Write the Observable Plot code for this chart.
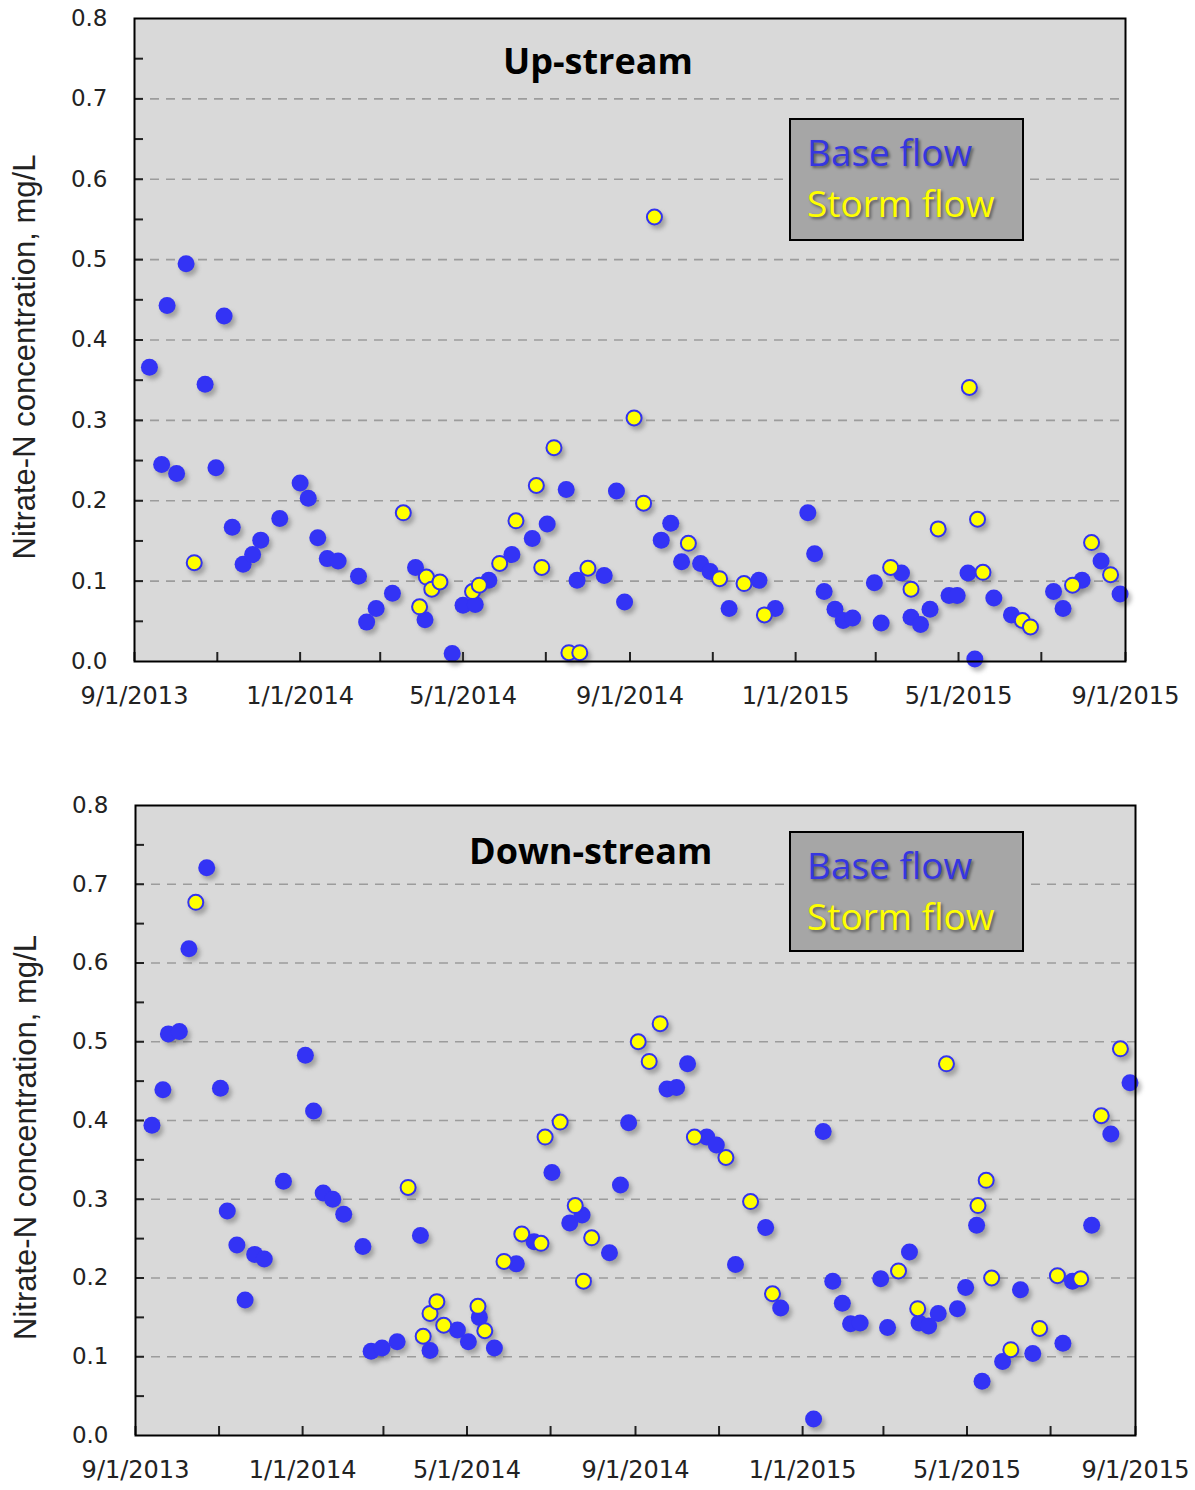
<!DOCTYPE html>
<html><head><meta charset="utf-8">
<script src="https://cdn.jsdelivr.net/npm/d3@7"></script>
<script src="https://cdn.jsdelivr.net/npm/@observablehq/plot@0.6"></script>
<style>
body{margin:0;background:#fff;width:1195px;height:1490px;overflow:hidden;position:relative;}
.panel{position:absolute;left:0;}
.title{position:absolute;font-family:"Open Sans";font-weight:700;font-size:36px;color:#000;line-height:1;}
.legend{position:absolute;background:#a6a6a6;border:2px solid #000;box-sizing:border-box;font-family:"Open Sans";font-size:37px;line-height:51px;padding:6px 0 0 16px;text-shadow:2px 2px 3px rgba(0,0,0,0.45);}
.legend .b{color:#3636e0;}
.legend .s{color:#ffff00;}
</style></head><body>
<div id="top" class="panel" style="top:0"></div>
<div id="bottom" class="panel" style="top:730px"></div>
<div class="title" style="left:503px;top:43px">Up-stream</div>
<div class="title" style="left:469px;top:833px">Down-stream</div>
<div class="legend" style="left:789px;top:118px;width:235px;height:123px"><div class="b">Base flow</div><div class="s">Storm flow</div></div>
<div class="legend" style="left:789px;top:831px;width:235px;height:121px"><div class="b">Base flow</div><div class="s">Storm flow</div></div>
<script>
// ---------- Data ----------
const upBaseDates = ["2013-09-12","2013-09-21","2013-09-25","2013-10-02","2013-10-09","2013-10-23","2013-10-31","2013-11-06","2013-11-12","2013-11-20","2013-11-27","2013-12-03","2013-12-17","2014-01-01","2014-01-07","2014-01-14","2014-01-21","2014-01-29","2014-02-13","2014-02-19","2014-02-26","2014-03-10","2014-03-27","2014-04-03","2014-04-23","2014-05-01","2014-05-10","2014-05-20","2014-06-06","2014-06-21","2014-07-02","2014-07-16","2014-07-24","2014-08-13","2014-08-22","2014-08-28","2014-09-24","2014-10-01","2014-10-09","2014-10-23","2014-10-30","2014-11-13","2014-12-05","2014-12-17","2015-01-10","2015-01-15","2015-01-22","2015-01-30","2015-02-05","2015-02-12","2015-02-28","2015-03-05","2015-03-20","2015-03-27","2015-04-03","2015-04-10","2015-04-24","2015-04-30","2015-05-08","2015-05-13","2015-05-27","2015-06-09","2015-07-10","2015-07-17","2015-07-31","2015-08-14","2015-08-28"];
const upBaseValues = [0.366,0.245,0.443,0.234,0.495,0.345,0.241,0.430,0.167,0.121,0.133,0.151,0.178,0.222,0.203,0.154,0.128,0.125,0.106,0.049,0.066,0.085,0.117,0.052,0.010,0.070,0.071,0.101,0.133,0.153,0.171,0.214,0.101,0.107,0.212,0.074,0.151,0.172,0.124,0.122,0.112,0.066,0.101,0.066,0.185,0.134,0.087,0.065,0.051,0.054,0.098,0.048,0.110,0.055,0.046,0.065,0.082,0.082,0.110,0.003,0.079,0.058,0.087,0.066,0.101,0.125,0.084];
const upStormDates = ["2013-10-15","2014-03-18","2014-03-30","2014-04-04","2014-04-08","2014-04-14","2014-05-08","2014-05-13","2014-05-28","2014-06-09","2014-06-24","2014-06-28","2014-07-07","2014-07-18","2014-07-26","2014-08-01","2014-09-04","2014-09-11","2014-09-19","2014-10-14","2014-11-06","2014-11-24","2014-12-09","2015-03-12","2015-03-27","2015-04-16","2015-05-09","2015-05-15","2015-05-19","2015-06-17","2015-06-23","2015-07-24","2015-08-07","2015-08-21"];
const upStormValues = [0.123,0.185,0.068,0.105,0.090,0.099,0.087,0.095,0.122,0.175,0.219,0.117,0.266,0.011,0.011,0.116,0.303,0.197,0.553,0.147,0.103,0.097,0.058,0.117,0.090,0.165,0.341,0.177,0.111,0.051,0.043,0.095,0.148,0.108];

const downBaseDates = ["2013-09-13","2013-09-21","2013-09-25","2013-10-03","2013-10-10","2013-10-23","2013-11-02","2013-11-07","2013-11-14","2013-11-20","2013-11-27","2013-12-04","2013-12-18","2014-01-03","2014-01-09","2014-01-16","2014-01-23","2014-01-31","2014-02-14","2014-02-20","2014-02-28","2014-03-11","2014-03-28","2014-04-04","2014-04-24","2014-05-02","2014-05-10","2014-05-21","2014-06-06","2014-06-19","2014-07-02","2014-07-15","2014-07-24","2014-08-13","2014-08-21","2014-08-27","2014-09-24","2014-10-01","2014-10-09","2014-10-23","2014-10-30","2014-11-13","2014-12-05","2014-12-16","2015-01-09","2015-01-16","2015-01-23","2015-01-30","2015-02-05","2015-02-12","2015-02-27","2015-03-04","2015-03-20","2015-03-27","2015-04-03","2015-04-10","2015-04-24","2015-04-30","2015-05-08","2015-05-12","2015-05-27","2015-06-09","2015-06-18","2015-07-10","2015-07-17","2015-07-31","2015-08-14","2015-08-28"];
const downBaseValues = [0.394,0.439,0.510,0.513,0.618,0.721,0.441,0.285,0.242,0.172,0.230,0.224,0.323,0.483,0.412,0.308,0.300,0.281,0.240,0.107,0.111,0.119,0.254,0.108,0.134,0.119,0.150,0.111,0.218,0.246,0.334,0.270,0.280,0.232,0.318,0.397,0.440,0.442,0.472,0.379,0.369,0.217,0.264,0.162,0.021,0.386,0.196,0.168,0.142,0.143,0.199,0.137,0.233,0.143,0.139,0.155,0.161,0.188,0.267,0.069,0.094,0.185,0.104,0.117,0.196,0.267,0.383,0.448];
const downStormDates = ["2013-10-15","2014-03-19","2014-03-30","2014-04-04","2014-04-09","2014-04-14","2014-05-09","2014-05-14","2014-05-28","2014-06-10","2014-06-24","2014-06-27","2014-07-08","2014-07-19","2014-07-25","2014-07-31","2014-09-03","2014-09-11","2014-09-19","2014-10-14","2014-11-06","2014-11-24","2014-12-10","2015-03-12","2015-03-26","2015-04-16","2015-05-09","2015-05-15","2015-05-19","2015-06-02","2015-06-23","2015-07-06","2015-07-23","2015-08-07","2015-08-21"];
const downStormValues = [0.677,0.315,0.126,0.155,0.170,0.140,0.164,0.133,0.221,0.256,0.244,0.379,0.398,0.292,0.196,0.251,0.500,0.475,0.523,0.379,0.353,0.297,0.180,0.209,0.161,0.472,0.292,0.324,0.200,0.109,0.136,0.203,0.199,0.406,0.491];

const xDomain = ["2013-09-01","2015-09-01"];
const xLabelTicks = ["2013-09-01","2014-01-01","2014-05-01","2014-09-01","2015-01-01","2015-05-01","2015-09-01"];
const xMinorTicks = ["2013-09-01","2013-11-01","2014-01-01","2014-03-01","2014-05-01","2014-07-01","2014-09-01","2014-11-01","2015-01-01","2015-03-01","2015-05-01","2015-07-01","2015-09-01"];
const yLabelTicks = [0,0.1,0.2,0.3,0.4,0.5,0.6,0.7,0.8];
const yMinorTicks = [0.05,0.1,0.15,0.2,0.25,0.3,0.35,0.4,0.45,0.5,0.55,0.6,0.65,0.7,0.75];
const yGrid = [0.1,0.2,0.3,0.4,0.5,0.6,0.7];
const yLabel = "Nitrate-N concentration, mg/L";

// ---------- Drawing ----------
const parse = s => new Date(s + "T00:00:00Z");
const fmt = d => `${d.getUTCMonth()+1}/${d.getUTCDate()}/${d.getUTCFullYear()}`;

function panel(bd, bv, sd, sv, m) {
  const base = bd.map((d, i) => ({date: parse(d), v: bv[i]}));
  const storm = sd.map((d, i) => ({date: parse(d), v: sv[i]}));
  const all = base.concat(storm);
  const svg = Plot.plot({
    width: 1195, height: m.height,
    marginLeft: m.left, marginRight: m.right, marginTop: m.top, marginBottom: m.bottom,
    style: {fontFamily: "DejaVu Sans", fontSize: "23px", color: "#222", background: "transparent", overflow: "visible"},
    x: {type: "utc", domain: xDomain.map(parse)},
    y: {domain: [0, 0.8]},
    marks: [
      Plot.frame({fill: "#d9d9d9"}),
      Plot.ruleY(yGrid, {stroke: "#9c9c9c", strokeWidth: 1.6, strokeDasharray: "9,7"}),
      Plot.axisY({ticks: yLabelTicks, tickSize: 0, tickPadding: 27, tickFormat: d3.format(".1f"), label: null, fontSize: 23}),
      Plot.axisY({ticks: yMinorTicks, tickSize: -9, strokeWidth: 2, tickFormat: () => "", label: null}),
      Plot.axisX({ticks: xLabelTicks.map(parse), tickSize: 0, tickPadding: 25, tickFormat: fmt, label: null, fontSize: 24}),
      Plot.axisX({ticks: xMinorTicks.map(parse), tickSize: -9, strokeWidth: 2, tickFormat: () => "", label: null}),
      Plot.text([yLabel], {text: d => d, frameAnchor: "left", textAnchor: "middle", rotate: -90, dx: -109, dy: 17, fontSize: 31, fontFamily: "Liberation Sans", fill: "#222"}),
      Plot.dot(all, {x: "date", y: "v", r: 8.5, fill: "#606060", fillOpacity: 0.45, dx: 3, dy: 4, ariaDescription: "shadow"}),
      Plot.dot(base, {x: "date", y: "v", r: 8.5, fill: "#3333f5"}),
      Plot.dot(storm, {x: "date", y: "v", r: 7.5, fill: "#ffff00", stroke: "#3333f0", strokeWidth: 2}),
      Plot.frame({stroke: "#000", strokeWidth: 2})
    ]
  });
  svg.querySelectorAll('[aria-description="shadow"]').forEach(g => g.style.filter = "blur(2px)");
  return svg;
}

document.getElementById("top").appendChild(
  panel(upBaseDates, upBaseValues, upStormDates, upStormValues, {height: 730, left: 134, right: 70, top: 18, bottom: 69}));
document.getElementById("bottom").appendChild(
  panel(downBaseDates, downBaseValues, downStormDates, downStormValues, {height: 760, left: 135, right: 60, top: 75, bottom: 55}));
</script>
</body></html>
